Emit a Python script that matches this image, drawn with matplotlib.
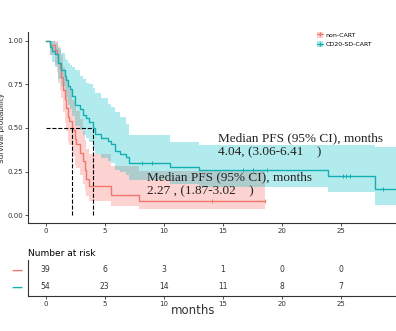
import numpy as np
import matplotlib
matplotlib.use("Agg")
import matplotlib.pyplot as plt
from matplotlib.patches import Patch
from matplotlib.lines import Line2D

## donnees
t_red = [0, 0.4, 0.76, 0.95, 1.05, 1.2, 1.33, 1.47, 1.6, 1.75, 1.9, 2.0, 2.27, 2.45, 2.6, 2.9, 3.16, 3.3, 3.45, 3.7, 5.5, 7.9, 18.6]
s_red = [1.0, 0.974, 0.949, 0.923, 0.872, 0.846, 0.795, 0.718, 0.667, 0.615, 0.564, 0.538, 0.487, 0.436, 0.410, 0.359, 0.308, 0.256, 0.205, 0.167, 0.115, 0.082, 0.082]
up_red = [1.0, 1.0, 1.0, 1.0, 0.97, 0.95, 0.92, 0.85, 0.81, 0.78, 0.74, 0.72, 0.66, 0.62, 0.60, 0.55, 0.48, 0.43, 0.38, 0.35, 0.28, 0.255, 0.255]
lo_red = [1.0, 0.92, 0.86, 0.82, 0.76, 0.72, 0.67, 0.59, 0.53, 0.48, 0.42, 0.40, 0.34, 0.29, 0.27, 0.23, 0.18, 0.14, 0.11, 0.08, 0.05, 0.035, 0.035]
cens_red = [14.1, 18.6]

t_teal = [0, 0.34, 0.55, 0.76, 1.05, 1.33, 1.6, 1.75, 1.9, 2.05, 2.2, 2.45, 2.9, 3.2, 3.45, 3.7, 4.04, 4.15, 4.7, 5.3, 5.5, 5.9, 6.3, 6.8, 7.1, 10.5, 13.0, 23.9, 27.9, 29.7]
s_teal = [1.0, 0.963, 0.944, 0.926, 0.870, 0.833, 0.796, 0.778, 0.741, 0.722, 0.685, 0.630, 0.611, 0.574, 0.556, 0.537, 0.500, 0.463, 0.444, 0.426, 0.407, 0.370, 0.352, 0.333, 0.296, 0.278, 0.256, 0.224, 0.149, 0.149]
up_teal = [1.0, 1.0, 1.0, 0.99, 0.96, 0.93, 0.90, 0.89, 0.87, 0.86, 0.85, 0.83, 0.80, 0.78, 0.76, 0.75, 0.73, 0.70, 0.67, 0.64, 0.62, 0.59, 0.56, 0.52, 0.46, 0.42, 0.40, 0.40, 0.39, 0.39]
lo_teal = [1.0, 0.92, 0.88, 0.85, 0.78, 0.74, 0.69, 0.67, 0.63, 0.61, 0.57, 0.51, 0.49, 0.46, 0.44, 0.42, 0.385, 0.35, 0.33, 0.31, 0.30, 0.26, 0.25, 0.23, 0.20, 0.18, 0.16, 0.135, 0.06, 0.06]
cens_teal = [8.2, 9.0, 16.7, 17.6, 18.8, 25.2, 25.5, 25.8, 28.6]

med_red = 2.27
med_teal = 4.04

risk_t = [0, 5, 10, 15, 20, 25]
risk_red = [39, 6, 3, 1, 0, 0]
risk_teal = [54, 23, 14, 11, 8, 7]

c_red = "#F0776E"
c_teal = "#13AFB3"

fig = plt.figure(figsize=(3.96, 3.31), dpi=100)
ax = fig.add_axes([0.0707, 0.326, 0.9293, 0.577])

ax.fill_between(t_red, lo_red, up_red, step="post", color="#F8766D", alpha=0.32, lw=0)
ax.fill_between(t_teal, lo_teal, up_teal, step="post", color="#00BFC4", alpha=0.3, lw=0)
ax.step(t_red, s_red, where="post", color=c_red, lw=1.0)
ax.step(t_teal, s_teal, where="post", color=c_teal, lw=1.0)

def surv_at(tt, ss, x):
    k = np.searchsorted(tt, x, side="right") - 1
    return ss[k]

ax.plot(cens_red, [surv_at(t_red, s_red, x) for x in cens_red], "|", color=c_red, ms=3, mew=0.7)
ax.plot(cens_teal, [surv_at(t_teal, s_teal, x) for x in cens_teal], "|", color=c_teal, ms=3, mew=0.7)

# lignes de la mediane
ax.plot([0, med_teal], [0.5, 0.5], "--", color="black", lw=0.8)
ax.plot([med_red, med_red], [0, 0.5], "--", color="black", lw=0.8)
ax.plot([med_teal, med_teal], [0, 0.5], "--", color="black", lw=0.8)

ax.text(14.6, 0.40, "Median PFS (95% CI), months\n4.04, (3.06-6.41    )", family="Liberation Serif",
        fontsize=9.5, color="#222222", va="center", linespacing=1.25)
ax.text(8.55, 0.178, "Median PFS (95% CI), months\n2.27 , (1.87-3.02    )", family="Liberation Serif",
        fontsize=9.5, color="#222222", va="center", linespacing=1.25)

ax.set_xlim(-1.5, 29.7)
ax.set_ylim(-0.046, 1.05)
ax.set_xticks(risk_t)
ax.set_yticks([0, 0.25, 0.5, 0.75, 1.0])
ax.set_yticklabels(["0.00", "0.25", "0.50", "0.75", "1.00"])
ax.tick_params(labelsize=5, length=2, width=0.6, colors="#333333", pad=1.5)
ax.set_ylabel("Survival probability", fontsize=5.2, color="#222222")
ax.yaxis.set_label_coords(-0.062, 0.5)
for s in ["top", "right"]:
    ax.spines[s].set_visible(False)
for s in ["left", "bottom"]:
    ax.spines[s].set_linewidth(0.8)
    ax.spines[s].set_color("#333333")

h_red = (Patch(color="#F8766D", alpha=0.35, lw=0), Line2D([], [], color=c_red, lw=0.8, marker="|", ms=3))
h_teal = (Patch(color="#00BFC4", alpha=0.35, lw=0), Line2D([], [], color=c_teal, lw=0.8, marker="|", ms=3))
ax.legend([h_red, h_teal], ["non-CART", "CD20-SD-CART"], loc="upper left", bbox_to_anchor=(0.77, 1.03),
          fontsize=4.5, frameon=False, handlelength=0.9, handleheight=1.0, handletextpad=0.5, labelspacing=0.5)

## tableau des effectifs
ax2 = fig.add_axes([0.0707, 0.106, 0.9293, 0.109])
for x, n in zip(risk_t, risk_red):
    ax2.text(x, 0.72, str(n), fontsize=5.5, ha="center", va="center", color="#333333")
for x, n in zip(risk_t, risk_teal):
    ax2.text(x, 0.25, str(n), fontsize=5.5, ha="center", va="center", color="#333333")
ax2.set_xlim(-1.5, 29.7)
ax2.set_ylim(0, 1)
ax2.set_xticks(risk_t)
ax2.set_yticks([0.25, 0.72])
ax2.set_yticklabels(["\u2014", "\u2014"], fontsize=8, fontweight="bold")
ax2.get_yticklabels()[0].set_color(c_teal)
ax2.get_yticklabels()[1].set_color(c_red)
ax2.tick_params(axis="x", labelsize=5, length=2, width=0.6, colors="#333333", pad=1.5)
ax2.tick_params(axis="y", length=0, pad=4)
for s in ["top", "right"]:
    ax2.spines[s].set_visible(False)
for s in ["left", "bottom"]:
    ax2.spines[s].set_linewidth(0.8)
    ax2.spines[s].set_color("#333333")
ax2.set_title("Number at risk", fontsize=6.5, loc="left", x=0.0, pad=3)

fig.text(193/396, 1 - 311/331, "months", fontsize=8.5, ha="center", va="center", color="#333333")

plt.savefig("out.png", dpi=100)
